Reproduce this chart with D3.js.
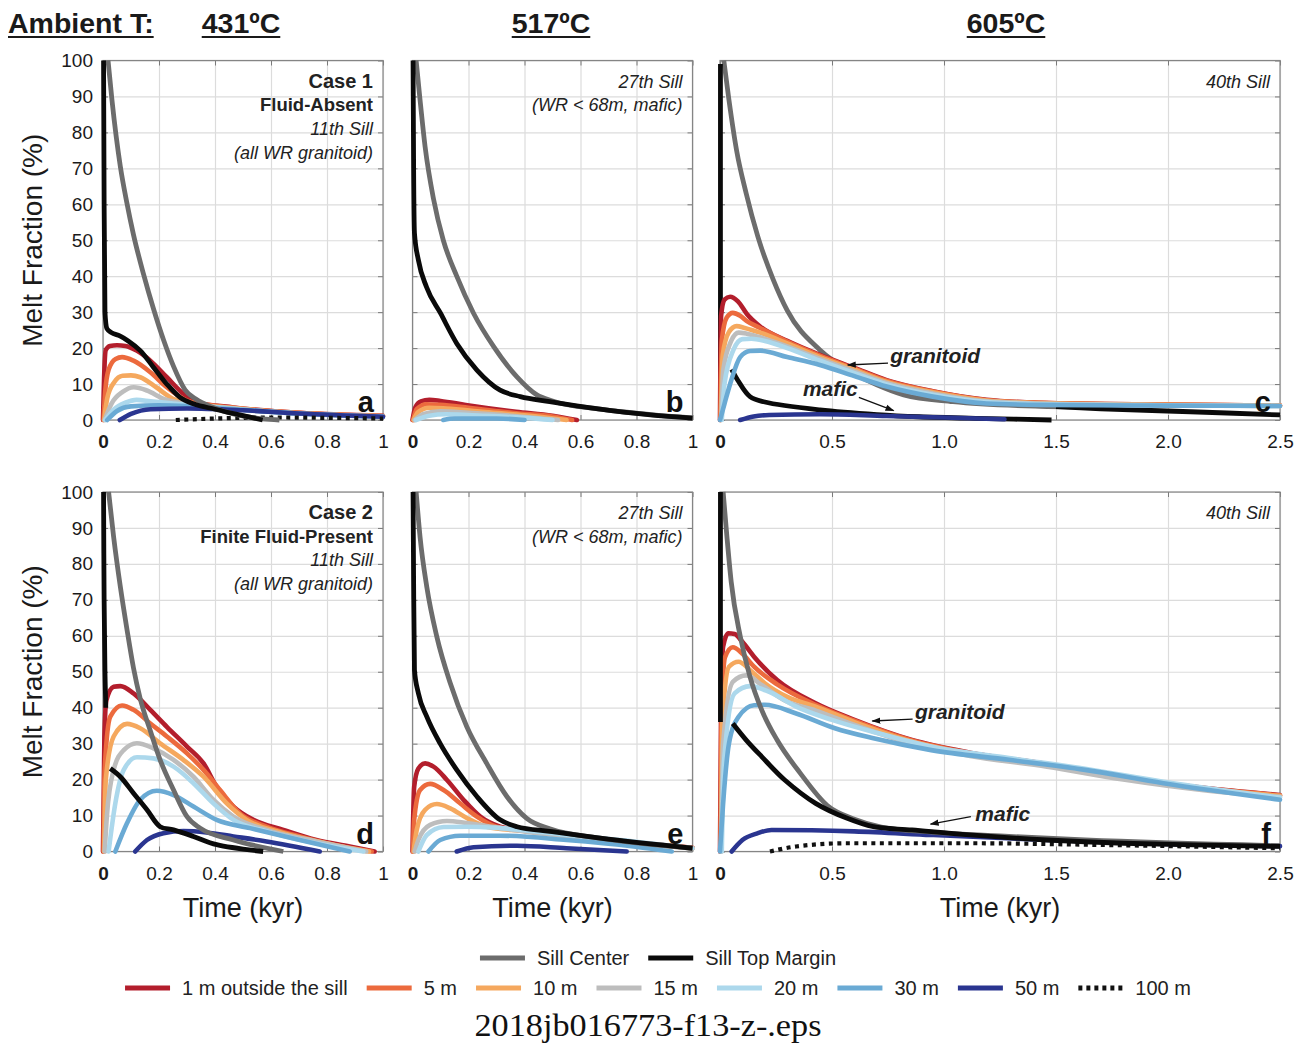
<!DOCTYPE html>
<html><head><meta charset="utf-8">
<script src="https://cdn.jsdelivr.net/npm/d3@7/dist/d3.min.js"></script>
<style>
body{margin:0;background:#fff}
svg{display:block}
</style></head>
<body><svg id="chart" width="1305" height="1047"></svg>
<script>
// ---------------- DATA ----------------
const ambientLabels = ["431ºC", "517ºC", "605ºC"];
const seriesNames = ["1 m outside the sill", "5 m", "10 m", "15 m", "20 m", "30 m", "50 m", "100 m"];
const sillNames = ["Sill Center", "Sill Top Margin"];
const xTicksKyr1 = [0, 0.2, 0.4, 0.6, 0.8, 1];
const xTickLabels1 = ["0", "0.2", "0.4", "0.6", "0.8", "1"];
const xTicksKyr25 = [0, 0.5, 1.0, 1.5, 2.0, 2.5];
const xTickLabels25 = ["0", "0.5", "1.0", "1.5", "2.0", "2.5"];
const yTicksPct = [0, 10, 20, 30, 40, 50, 60, 70, 80, 90, 100];

// Panel a: Case 1, 431ºC  [time kyr, melt %]
const a_center = [[0.018,100],[0.032,89],[0.062,70.5],[0.085,60.5],[0.109,51.5],[0.145,40.5],[0.18,31],[0.216,22.3],[0.252,14.9],[0.293,8.4],[0.33,5.9],[0.394,3.5],[0.466,1.7],[0.57,0.3],[0.63,0]];
const a_top = [[0.002,100],[0.004,60],[0.007,30],[0.014,25.4],[0.03,24.3],[0.06,23.4],[0.09,22],[0.133,19.3],[0.18,14.7],[0.228,10],[0.275,6.3],[0.323,4.5],[0.4,3],[0.5,1.2],[0.57,0]];
const a_1m = [[0,0],[0.004,12],[0.01,19.5],[0.025,20.6],[0.05,20.8],[0.08,20.6],[0.12,19.3],[0.169,16.5],[0.228,11.9],[0.287,7.3],[0.335,4.9],[0.466,3.5],[0.7,2],[1,1.2]];
const a_5m = [[0.002,0],[0.008,8],[0.02,14],[0.045,17],[0.068,17.5],[0.109,16.5],[0.169,13.3],[0.228,9.1],[0.3,5.4],[0.35,4.5],[0.466,3.4],[0.7,2],[1,1.1]];
const a_10m = [[0.004,0],[0.015,6],[0.04,10.5],[0.07,12.3],[0.1,12.4],[0.133,11.9],[0.19,9.1],[0.25,5.9],[0.3,4.8],[0.466,3.3],[0.7,1.9],[1,1.0]];
const a_15m = [[0.006,0],[0.03,4.5],[0.07,7.8],[0.11,9.1],[0.157,8.2],[0.216,5.9],[0.28,4.7],[0.466,3.2],[0.7,1.8],[1,1.0]];
const a_20m = [[0.008,0],[0.04,3],[0.08,4.8],[0.12,5.6],[0.17,5.2],[0.25,4.6],[0.466,3.1],[0.7,1.8],[1,0.9]];
const a_30m = [[0.015,0],[0.05,2.5],[0.1,3.8],[0.2,4.1],[0.3,3.9],[0.466,3],[0.7,1.8],[1,0.9]];
const a_50m = [[0.06,0],[0.1,1.7],[0.17,3.0],[0.3,3.2],[0.5,2.7],[0.7,1.8],[1,0.9]];
const a_100m = [[0.26,0],[0.4,0.4],[0.6,0.7],[0.8,0.6],[1,0.4]];

// Panel b: Case 1, 517ºC
const b_center = [[0.013,100],[0.027,89],[0.045,76],[0.075,61.5],[0.11,50],[0.158,40],[0.218,29.7],[0.29,20.4],[0.373,12],[0.444,7],[0.5,5.3],[0.67,3],[0.85,1.5],[1,0.6]];
const b_top = [[0.002,100],[0.004,70],[0.007,52],[0.021,44.5],[0.05,37],[0.1,29.7],[0.158,21.3],[0.23,13.9],[0.313,8.3],[0.385,6.5],[0.49,5.1],[0.67,3],[0.85,1.4],[1,0.5]];
const b_1m = [[0,0],[0.01,3.5],[0.03,5.2],[0.06,5.6],[0.1,5.3],[0.19,4.2],[0.37,2.3],[0.5,1.2],[0.587,0]];
const b_5m = [[0.002,0],[0.015,3],[0.05,4.4],[0.1,4.2],[0.2,3.4],[0.37,1.9],[0.5,1],[0.57,0]];
const b_10m = [[0.004,0],[0.02,2.2],[0.06,3.4],[0.12,3.2],[0.25,2.3],[0.4,1.3],[0.55,0]];
const b_15m = [[0.008,0],[0.04,1.7],[0.1,2.4],[0.2,2],[0.35,1.2],[0.52,0]];
const b_20m = [[0.012,0],[0.06,1.2],[0.12,1.6],[0.25,1.2],[0.4,0.6],[0.5,0]];
const b_30m = [[0.11,0],[0.15,0.4],[0.3,0.4],[0.4,0]];

// Panel c: Case 1, 605ºC
const c_center = [[0.017,100],[0.04,89],[0.074,75],[0.117,63],[0.169,51],[0.238,39],[0.3,30.5],[0.446,19.5],[0.595,13],[0.7,9.8],[0.82,7],[1.04,5.1],[1.43,3.8],[1.6,3.6]];
const c_top = [[0.002,99],[0.002,0.5],null,[0.052,14.1],[0.08,11],[0.134,6.5],[0.2,5],[0.446,2.8],[0.7,1.5],[0.89,0.9],[1.2,0.4],[1.48,0],null,[1.5,3.7],[1.7,3.1],[2.1,2.3],[2.5,1.4]];
const c_1m = [[0,0],[0.005,29],[0.02,33.5],[0.045,34.3],[0.08,33],[0.12,29.5],[0.179,26],[0.3,22],[0.446,18.1],[0.6,14.5],[0.744,11.1],[0.95,8],[1.19,5.6],[1.43,4.8],[2.0,4.3],[2.5,4.0]];
const c_5m = [[0.002,0],[0.008,22],[0.03,28.5],[0.057,29.8],[0.09,29],[0.12,27.5],[0.179,25.6],[0.3,21.8],[0.446,17.9],[0.6,14.3],[0.744,10.9],[0.95,7.9],[1.19,5.5],[1.43,4.8],[2.0,4.3],[2.5,4.0]];
const c_10m = [[0.004,0],[0.012,18],[0.04,24.5],[0.074,26.1],[0.11,25.6],[0.179,24.3],[0.3,21.3],[0.446,17.5],[0.6,14],[0.744,10.6],[0.95,7.7],[1.19,5.4],[1.43,4.7],[2.0,4.2],[2.5,4.0]];
const c_15m = [[0.006,0],[0.015,14],[0.05,22],[0.083,24.3],[0.12,24],[0.179,23],[0.3,20.5],[0.446,17],[0.6,13.5],[0.744,10.3],[0.95,7.4],[1.19,5.2],[1.43,4.6],[2.0,4.1],[2.5,3.9]];
const c_20m = [[0.008,0],[0.02,10],[0.06,19.5],[0.1,22.5],[0.14,22.6],[0.2,22],[0.3,20],[0.446,16.5],[0.6,13],[0.744,9.9],[0.95,7],[1.19,5],[1.43,4.4],[2.0,4.1],[2.5,3.9]];
const c_30m = [[0,0],[0.02,4.5],[0.05,11],[0.09,17.5],[0.134,19.2],[0.18,19.3],[0.3,17.5],[0.446,15.3],[0.6,12.2],[0.744,9.3],[0.95,6.5],[1.19,4.6],[1.43,4.2],[2.0,4.0],[2.5,3.9]];
const c_50m = [[0.09,0],[0.15,1],[0.22,1.4],[0.446,1.6],[0.744,1.1],[1.0,0.7],[1.27,0.2]];

// Panel d: Case 2, 431ºC
const d_center = [[0.02,100],[0.038,87.5],[0.062,73.6],[0.086,61.6],[0.109,51],[0.133,42.5],[0.169,33.6],[0.204,25.5],[0.252,17.1],[0.3,9.7],[0.347,6.5],[0.466,3.2],[0.644,0]];
const d_top = [[0.002,100],[0.004,70],[0.007,50],[0.01,40],null,[0.026,23.1],[0.062,20.8],[0.109,16.2],[0.157,11.6],[0.204,6.9],[0.252,6],[0.323,4.2],[0.406,1.9],[0.572,0]];
const d_1m = [[0,0],[0.005,31.9],[0.012,42],[0.038,45.8],[0.062,46],[0.109,44],[0.169,39.4],[0.228,34.7],[0.3,29.2],[0.359,24.5],[0.406,18],[0.466,12.5],[0.537,8.8],[0.644,6],[0.762,3.2],[0.881,1.4],[0.97,0]];
const d_5m = [[0.002,0],[0.006,22.7],[0.026,37.5],[0.068,40.6],[0.109,39.4],[0.169,35.6],[0.228,32],[0.3,27.3],[0.359,22.7],[0.418,17.1],[0.489,10.6],[0.584,6.9],[0.703,4.2],[0.822,1.9],[0.96,0]];
const d_10m = [[0.004,0],[0.01,20],[0.038,32],[0.086,35.5],[0.133,34.3],[0.204,30.1],[0.287,25.5],[0.359,20.8],[0.442,13.4],[0.513,8.8],[0.644,5.1],[0.822,1.9],[0.95,0]];
const d_15m = [[0.006,0],[0.014,10],[0.038,22.7],[0.074,28.2],[0.121,30.1],[0.18,28.7],[0.252,25.5],[0.323,20.8],[0.394,14.4],[0.466,9.7],[0.584,6],[0.762,2.8],[0.94,0]];
const d_20m = [[0.02,0],[0.044,13.4],[0.074,22.7],[0.121,26.2],[0.18,25.9],[0.252,23.6],[0.323,19],[0.394,13.4],[0.466,8.8],[0.584,5.6],[0.762,2.3],[0.93,0]];
const d_30m = [[0.044,0],[0.086,7.9],[0.133,14.4],[0.192,16.9],[0.252,15.7],[0.323,12.5],[0.406,8.8],[0.525,6.5],[0.703,3.2],[0.881,0]];
const d_50m = [[0.115,0],[0.157,3.2],[0.216,5.1],[0.287,5.7],[0.37,5.3],[0.466,4.2],[0.584,2.8],[0.774,0]];

// Panel e: Case 2, 517ºC
const e_center = [[0.013,100],[0.027,87.5],[0.051,73.6],[0.087,59.7],[0.135,46.8],[0.194,34.7],[0.265,24.5],[0.337,15.3],[0.408,9.2],[0.49,6.3],[0.67,3.7],[1,0.9]];
const e_top = [[0.002,100],[0.004,75],[0.007,50.5],[0.021,44],[0.051,37.5],[0.099,30],[0.158,22.7],[0.23,15.3],[0.313,8.8],[0.373,6.9],[0.49,5.6],[0.67,3.7],[1,0.9]];
const e_1m = [[0,0],[0.006,18],[0.021,23.1],[0.045,24.5],[0.075,23.6],[0.123,19.9],[0.182,14.4],[0.242,9.7],[0.313,6.9],[0.4,5.8],[0.55,4.5],[0.75,2.8],[1,1]];
const e_5m = [[0.002,0],[0.006,8.8],[0.027,17.1],[0.063,18.8],[0.111,17.1],[0.17,13.4],[0.23,9.7],[0.3,6.9],[0.4,5.8],[0.55,4.5],[0.75,2.8],[1,1]];
const e_10m = [[0.004,0],[0.015,6],[0.045,11.6],[0.087,13.2],[0.135,12],[0.194,9.3],[0.265,6.9],[0.4,5.7],[0.55,4.4],[0.75,2.7],[1,0.9]];
const e_15m = [[0.008,0],[0.021,3.2],[0.063,7.4],[0.123,8.5],[0.194,7.9],[0.29,6.8],[0.4,5.6],[0.55,4.3],[0.75,2.6],[1,0.9]];
const e_20m = [[0.021,0],[0.051,4.6],[0.111,6.8],[0.194,6.9],[0.313,6.5],[0.55,4.6],[0.79,2.8],[1,0.9]];
const e_30m = [[0.057,0],[0.099,3.2],[0.17,4.4],[0.313,4.4],[0.55,3.2],[0.79,1.4],[0.926,0]];
const e_50m = [[0.158,0],[0.218,1.2],[0.373,1.6],[0.55,0.9],[0.765,0]];

// Panel f: Case 2, 605ºC
const f_center = [[0.014,100],[0.031,87.5],[0.05,75],[0.091,59.7],[0.134,48.6],[0.186,39.4],[0.255,31],[0.358,21.8],[0.479,12.8],[0.6,9],[0.72,6.8],[0.943,5.4],[1.29,4.2],[1.63,3.2],[2.5,1.6]];
const f_top = [[0.002,100],[0.002,36],null,[0.057,35.6],[0.117,31],[0.186,26.4],[0.289,19.9],[0.427,13.4],[0.565,9.3],[0.685,6.9],[0.857,6],[1.116,4.6],[1.46,3.2],[1.8,2.3],[2.5,1.4]];
const f_1m = [[0,0],[0.005,41],[0.014,57],[0.037,60.7],[0.065,60.5],[0.1,58.3],[0.152,54.2],[0.255,47.7],[0.427,41.2],[0.6,36.6],[0.857,31],[1.116,27.5],[1.46,24.3],[1.8,20.6],[2.15,17.8],[2.5,15.7]];
const f_5m = [[0.002,0],[0.006,35],[0.022,54],[0.057,56.8],[0.1,55],[0.152,51.4],[0.255,46.5],[0.427,40.8],[0.6,36.4],[0.857,30.9],[1.116,27.4],[1.46,24.2],[1.8,20.5],[2.15,17.7],[2.5,15.6]];
const f_10m = [[0.004,0],[0.01,35],[0.04,51.4],[0.083,52.8],[0.134,50.5],[0.2,46.8],[0.3,43],[0.427,40.3],[0.6,36],[0.857,30.6],[1.116,27.1],[1.46,24],[1.8,20.3],[2.15,17.5],[2.5,15.5]];
const f_15m = [[0.006,0],[0.014,30],[0.057,47.2],[0.117,49],[0.186,46.3],[0.289,42],[0.427,39.2],[0.6,35.2],[0.857,30],[1.116,26.6],[1.46,23.6],[1.8,20],[2.15,17.1],[2.5,15.2]];
const f_20m = [[0.008,0],[0.018,25],[0.065,44],[0.134,46],[0.22,44.4],[0.34,40.3],[0.5,36.6],[0.7,33],[0.943,29.2],[1.29,26],[1.63,23],[1.98,19.4],[2.5,15]];
const f_30m = [[0,0],[0.014,13.4],[0.04,30],[0.083,37.5],[0.152,40.7],[0.2,40.8],[0.34,38.4],[0.513,34.3],[0.685,31.5],[0.943,28.2],[1.29,25.5],[1.63,22.7],[1.98,19],[2.5,14.4]];
const f_50m = [[0.052,0],[0.1,3.2],[0.169,5.1],[0.23,6],[0.6,5.6],[0.943,4.6],[1.46,3.2],[1.98,2.1],[2.5,1.5]];
const f_100m = [[0.223,0],[0.34,1.4],[0.57,2.3],[1.116,2.3],[1.63,1.9],[2.5,0.9]];

// ---------------- STYLE / LAYOUT ----------------
const seriesColors = ["#b31e2c", "#ec6a3d", "#f5a85e", "#bdbdbd", "#acd8ec", "#6aaad4", "#2a3590", "#111111"];
const centerColor = "#6c6c6c", topColor = "#0a0a0a";
const SANS = '"Liberation Sans",Arial,Helvetica,sans-serif';
const SERIF = '"Liberation Serif","DejaVu Serif","Times New Roman",serif';
const TXT = "#1a1a1a";

const panels = [
  {id:"a", x0:103, x1:383, yt:60.5, yb:420, xmax:1, ticks:xTicksKyr1, tl:xTickLabels1, ylab:true,
   center:a_center, top:a_top, s:[a_1m,a_5m,a_10m,a_15m,a_20m,a_30m,a_50m,a_100m],
   notes:[["Case 1","bold",20],["Fluid-Absent","bold",18.5],["11th Sill","italic",18],["(all WR granitoid)","italic",18]]},
  {id:"b", x0:412.5, x1:692.5, yt:60.5, yb:420, xmax:1, ticks:xTicksKyr1, tl:xTickLabels1, ylab:false,
   center:b_center, top:b_top, s:[b_1m,b_5m,b_10m,b_15m,b_20m,b_30m,null,null],
   notes:[["27th Sill","italic",18],["(WR < 68m, mafic)","italic",18]]},
  {id:"c", x0:720, x1:1280, yt:60.5, yb:420, xmax:2.5, ticks:xTicksKyr25, tl:xTickLabels25, ylab:false,
   center:c_center, top:c_top, s:[c_1m,c_5m,c_10m,c_15m,c_20m,c_30m,c_50m,null],
   notes:[["40th Sill","italic",18]]},
  {id:"d", x0:103, x1:383, yt:492, yb:851.5, xmax:1, ticks:xTicksKyr1, tl:xTickLabels1, ylab:true,
   center:d_center, top:d_top, s:[d_1m,d_5m,d_10m,d_15m,d_20m,d_30m,d_50m,null],
   notes:[["Case 2","bold",20],["Finite Fluid-Present","bold",18.5],["11th Sill","italic",18],["(all WR granitoid)","italic",18]]},
  {id:"e", x0:412.5, x1:692.5, yt:492, yb:851.5, xmax:1, ticks:xTicksKyr1, tl:xTickLabels1, ylab:false,
   center:e_center, top:e_top, s:[e_1m,e_5m,e_10m,e_15m,e_20m,e_30m,e_50m,null],
   notes:[["27th Sill","italic",18],["(WR < 68m, mafic)","italic",18]]},
  {id:"f", x0:720, x1:1280, yt:492, yb:851.5, xmax:2.5, ticks:xTicksKyr25, tl:xTickLabels25, ylab:false,
   center:f_center, top:f_top, s:[f_1m,f_5m,f_10m,f_15m,f_20m,f_30m,f_50m,f_100m],
   notes:[["40th Sill","italic",18]]}
];

const svg = d3.select("#chart");
svg.append("rect").attr("width",1305).attr("height",1047).attr("fill","#fff");
const defs = svg.append("defs");
defs.append("marker").attr("id","arrow").attr("viewBox","0 0 10 10").attr("refX",9).attr("refY",5)
  .attr("markerWidth",9).attr("markerHeight",9).attr("markerUnits","userSpaceOnUse").attr("orient","auto")
  .append("path").attr("d","M0,1.5 L10,5 L0,8.5 Z").attr("fill","#111");

function txt(sel) { return sel.style("font-family", SANS).attr("fill", TXT); }
// smooth monotone curve where time strictly increases, centripetal Catmull-Rom otherwise
function pickCurve(data) {
  for (let i = 1; i < data.length; i++) {
    if (!data[i] || !data[i-1]) return d3.curveCatmullRom.alpha(0.5);
    if (data[i][0] <= data[i-1][0]) return d3.curveCatmullRom.alpha(0.5);
  }
  return d3.curveMonotoneX;
}

panels.forEach((p) => {
  const x = d3.scaleLinear().domain([0, p.xmax]).range([p.x0, p.x1]);
  const y = d3.scaleLinear().domain([0, 100]).range([p.yb, p.yt]);
  const g = svg.append("g");
  const w = p.x1 - p.x0, h = p.yb - p.yt;

  // grid
  g.append("g").attr("transform",`translate(0,${p.yb})`)
    .call(d3.axisBottom(x).tickValues(p.ticks).tickSize(-h).tickFormat(""))
    .call(s => { s.select(".domain").remove(); s.selectAll("line").attr("stroke","#dcdcdc").attr("stroke-width",1.2); });
  g.append("g").attr("transform",`translate(${p.x0},0)`)
    .call(d3.axisLeft(y).tickValues(yTicksPct).tickSize(-w).tickFormat(""))
    .call(s => { s.select(".domain").remove(); s.selectAll("line").attr("stroke","#dcdcdc").attr("stroke-width",1.2); });

  // inward ticks on all sides
  const tk = 5, tcol = "#7a7a7a";
  g.append("g").attr("transform",`translate(${p.x1},0)`).call(d3.axisLeft(y).tickValues(yTicksPct).tickSize(tk).tickFormat(""))
    .call(s => { s.select(".domain").remove(); s.selectAll("line").attr("stroke",tcol); });
  g.append("g").attr("transform",`translate(${p.x0},0)`).call(d3.axisRight(y).tickValues(yTicksPct).tickSize(tk).tickFormat(""))
    .call(s => { s.select(".domain").remove(); s.selectAll("line").attr("stroke",tcol); });
  g.append("g").attr("transform",`translate(0,${p.yt})`).call(d3.axisBottom(x).tickValues(p.ticks).tickSize(tk).tickFormat(""))
    .call(s => { s.select(".domain").remove(); s.selectAll("line").attr("stroke",tcol); });
  g.append("g").attr("transform",`translate(0,${p.yb})`).call(d3.axisTop(x).tickValues(p.ticks).tickSize(tk).tickFormat(""))
    .call(s => { s.select(".domain").remove(); s.selectAll("line").attr("stroke",tcol); });

  // frame
  g.append("rect").attr("x",p.x0).attr("y",p.yt).attr("width",w).attr("height",h)
    .attr("fill","none").attr("stroke","#858585").attr("stroke-width",1.2);

  // x tick labels
  g.append("g").attr("transform",`translate(0,${p.yb})`)
    .call(d3.axisBottom(x).tickValues(p.ticks).tickSize(0).tickPadding(15).tickFormat((d,i) => p.tl[i]))
    .call(s => { s.select(".domain").remove();
      txt(s.selectAll("text")).attr("font-size",19)
        .attr("font-weight", d => d === 0 ? "bold" : "normal"); });
  // y tick labels
  if (p.ylab) {
    g.append("g").attr("transform",`translate(${p.x0},0)`)
      .call(d3.axisLeft(y).tickValues(yTicksPct).tickSize(0).tickPadding(10).tickFormat(d3.format("d")))
      .call(s => { s.select(".domain").remove(); txt(s.selectAll("text")).attr("font-size",19); });
    txt(svg.append("text")).attr("transform",`translate(42,${(p.yt+p.yb)/2}) rotate(-90)`)
      .attr("text-anchor","middle").attr("font-size",28).text("Melt Fraction (%)");
  }

  // clip
  const cid = "clip" + p.id;
  defs.append("clipPath").attr("id",cid).append("rect")
    .attr("x",p.x0-3).attr("y",p.yt-4).attr("width",w+6).attr("height",h+7);
  const lg = g.append("g").attr("clip-path",`url(#${cid})`);
  const lineFor = data => d3.line().defined(d => d != null).x(d => x(d[0])).y(d => y(d[1])).curve(pickCurve(data))(data);

  p.s.forEach((data, i) => {
    if (!data) return;
    const dotted = i === 7;
    lg.append("path").attr("d",lineFor(data)).attr("fill","none")
      .attr("stroke",seriesColors[i]).attr("stroke-width", dotted ? 4.2 : 4.6)
      .attr("stroke-dasharray", dotted ? "4,4.5" : null)
      .attr("stroke-linecap", dotted ? "butt" : "round").attr("stroke-linejoin","round");
  });
  const sw = 4.8;
  if (p.id === "c") {
    // in panel c the sill curves sit beneath the wall-rock tails
    lg.insert("path",":first-child").attr("d",lineFor(p.top)).attr("fill","none").attr("stroke",topColor).attr("stroke-width",sw).attr("stroke-linejoin","round");
    lg.insert("path",":first-child").attr("d",lineFor(p.center)).attr("fill","none").attr("stroke",centerColor).attr("stroke-width",sw).attr("stroke-linejoin","round");
  } else {
    lg.append("path").attr("d",lineFor(p.center)).attr("fill","none").attr("stroke",centerColor).attr("stroke-width",sw).attr("stroke-linejoin","round");
    lg.append("path").attr("d",lineFor(p.top)).attr("fill","none").attr("stroke",topColor).attr("stroke-width",sw).attr("stroke-linejoin","round");
  }

  // notes (top-right)
  const nx = p.x1 - 10;
  const startY = p.yt + 27;
  p.notes.forEach((n, i) => {
    txt(svg.append("text")).attr("x",nx).attr("y",startY + i*23.7).attr("text-anchor","end")
      .attr("font-size",n[2]).attr("font-weight",n[1]==="bold"?"bold":"normal")
      .attr("font-style",n[1]==="italic"?"italic":"normal").attr("fill","#222").text(n[0]);
  });
  // panel letter
  txt(svg.append("text")).attr("x",p.x1 - 9).attr("y",p.yb - 8).attr("text-anchor","end")
    .attr("font-size",29).attr("font-weight","bold").attr("fill","#111").text(p.id);

  // x axis title (bottom row)
  if (p.yt > 400) {
    txt(svg.append("text")).attr("x",(p.x0+p.x1)/2).attr("y",917).attr("text-anchor","middle")
      .attr("font-size",27).text("Time (kyr)");
  }

  // granitoid / mafic annotations in the 605ºC panels
  if (p.id === "c" || p.id === "f") {
    const ann = p.id === "c"
      ? [["granitoid", 0.76, 17.9], ["mafic", 0.37, 8.5]]
      : [["granitoid", 0.87, 38.7], ["mafic", 1.14, 10.4]];
    ann.forEach(a => {
      txt(svg.append("text")).attr("x",x(a[1])).attr("y",y(a[2])+7).attr("font-size",21)
        .attr("font-weight","bold").attr("font-style","italic").attr("fill","#222").text(a[0]);
    });
    const arr = p.id === "c"
      ? [[0.75, 15.8, 0.57, 15.3], [0.62, 6.3, 0.775, 2.6]]
      : [[0.86, 36.8, 0.68, 36.3], [1.12, 9.7, 0.94, 7.6]];
    arr.forEach(a => {
      svg.append("line").attr("x1",x(a[0])).attr("y1",y(a[1])).attr("x2",x(a[2])).attr("y2",y(a[3]))
        .attr("stroke","#111").attr("stroke-width",1.3).attr("marker-end","url(#arrow)");
    });
  }
});

// header
const hdr = [["Ambient T:", 8, "start"], [ambientLabels[0], 241, "middle"], [ambientLabels[1], 551, "middle"], [ambientLabels[2], 1006, "middle"]];
hdr.forEach(h => {
  const t = txt(svg.append("text")).attr("x",h[1]).attr("y",33).attr("text-anchor",h[2])
    .attr("font-size",28.5).attr("font-weight","bold").text(h[0]);
  const bb = t.node().getBBox();
  svg.append("line").attr("x1",bb.x).attr("x2",bb.x+bb.width).attr("y1",37).attr("y2",37)
    .attr("stroke",TXT).attr("stroke-width",2);
});

// legend
function legendRow(items, yc, styles) {
  const g = svg.append("g");
  let cx = 0;
  items.forEach((name, i) => {
    const st = styles[i];
    g.append("line").attr("x1",cx).attr("x2",cx+45).attr("y1",yc).attr("y2",yc)
      .attr("stroke",st.c).attr("stroke-width",5).attr("stroke-dasharray",st.dash||null);
    const t = txt(g.append("text")).attr("x",cx+57).attr("y",yc+7).attr("font-size",20).attr("fill","#222").text(name);
    cx += 57 + t.node().getComputedTextLength() + 19;
  });
  const total = cx - 19;
  g.attr("transform",`translate(${658 - total/2},0)`);
}
legendRow(sillNames, 958, [{c:centerColor},{c:topColor}]);
legendRow(seriesNames, 988, seriesColors.map((c,i) => ({c, dash: i===7 ? "4,4" : null})));

// footer
svg.append("text").attr("x",648).attr("y",1036).attr("text-anchor","middle")
  .style("font-family", SERIF).attr("font-size",32)
  .attr("textLength",347).attr("lengthAdjust","spacingAndGlyphs").attr("fill","#111")
  .text("2018jb016773-f13-z-.eps");
</script></body></html>
